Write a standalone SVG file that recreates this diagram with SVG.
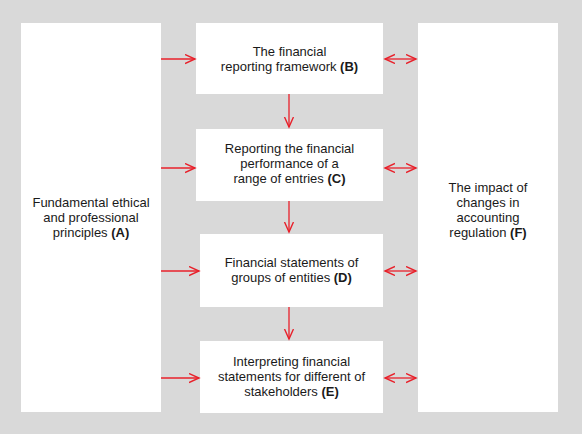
<svg xmlns="http://www.w3.org/2000/svg" width="582" height="434" viewBox="0 0 582 434">
<style>
.box{fill:#ffffff}
.t{font-family:"Liberation Sans",Arial,sans-serif;font-size:13px;fill:#1a1a1a;text-anchor:middle}
.b{font-weight:bold}
.c{stroke:#e8202a;stroke-width:1.3;fill:none}
</style>
<defs>
<marker id="ah" markerUnits="userSpaceOnUse" markerWidth="12" markerHeight="12" refX="10" refY="5" orient="auto-start-reverse" viewBox="0 0 12 12">
<path d="M0,0.5 L10,5 L0,9.5" fill="none" stroke="#e8202a" stroke-width="1.4"/>
</marker>
</defs>
<rect x="0" y="0" width="582" height="434" fill="#d9d9d9"/>
<g id="A">
<rect class="box" x="21" y="23" width="140" height="389"/>
<text class="t" x="91" y="207">Fundamental ethical</text>
<text class="t" x="91" y="222">and professional</text>
<text class="t" x="91" y="237">principles <tspan class="b">(A)</tspan></text>
</g>
<g id="B">
<rect class="box" x="196" y="23" width="187" height="71"/>
<text class="t" x="289.5" y="56">The financial</text>
<text class="t" x="289.5" y="71">reporting framework <tspan class="b">(B)</tspan></text>
</g>
<g id="C">
<rect class="box" x="196" y="129" width="187" height="72"/>
<text class="t" x="289.5" y="153">Reporting the financial</text>
<text class="t" x="289.5" y="168">performance of a</text>
<text class="t" x="289.5" y="183">range of entries <tspan class="b">(C)</tspan></text>
</g>
<g id="D">
<rect class="box" x="200" y="234" width="183" height="73"/>
<text class="t" x="291.5" y="267">Financial statements of</text>
<text class="t" x="291.5" y="282">groups of entities <tspan class="b">(D)</tspan></text>
</g>
<g id="E">
<rect class="box" x="200" y="341" width="183" height="72"/>
<text class="t" x="291.5" y="366">Interpreting financial</text>
<text class="t" x="291.5" y="381">statements for different of</text>
<text class="t" x="291.5" y="396">stakeholders <tspan class="b">(E)</tspan></text>
</g>
<g id="F">
<rect class="box" x="418" y="23" width="140" height="389"/>
<text class="t" x="488" y="192">The impact of</text>
<text class="t" x="488" y="207">changes in</text>
<text class="t" x="488" y="222">accounting</text>
<text class="t" x="488" y="237">regulation <tspan class="b">(F)</tspan></text>
</g>
<g id="connectors">
<line class="c" x1="161" y1="59" x2="195" y2="59" marker-end="url(#ah)"/>
<line class="c" x1="161" y1="168" x2="195" y2="168" marker-end="url(#ah)"/>
<line class="c" x1="161" y1="271" x2="199" y2="271" marker-end="url(#ah)"/>
<line class="c" x1="161" y1="378" x2="199" y2="378" marker-end="url(#ah)"/>
<line class="c" x1="385" y1="59" x2="416" y2="59" marker-start="url(#ah)" marker-end="url(#ah)"/>
<line class="c" x1="385" y1="168" x2="416" y2="168" marker-start="url(#ah)" marker-end="url(#ah)"/>
<line class="c" x1="385" y1="271" x2="416" y2="271" marker-start="url(#ah)" marker-end="url(#ah)"/>
<line class="c" x1="385" y1="378" x2="416" y2="378" marker-start="url(#ah)" marker-end="url(#ah)"/>
<line class="c" x1="289" y1="94" x2="289" y2="127" marker-end="url(#ah)"/>
<line class="c" x1="289" y1="201" x2="289" y2="232" marker-end="url(#ah)"/>
<line class="c" x1="289" y1="307" x2="289" y2="339" marker-end="url(#ah)"/>
</g>
</svg>
